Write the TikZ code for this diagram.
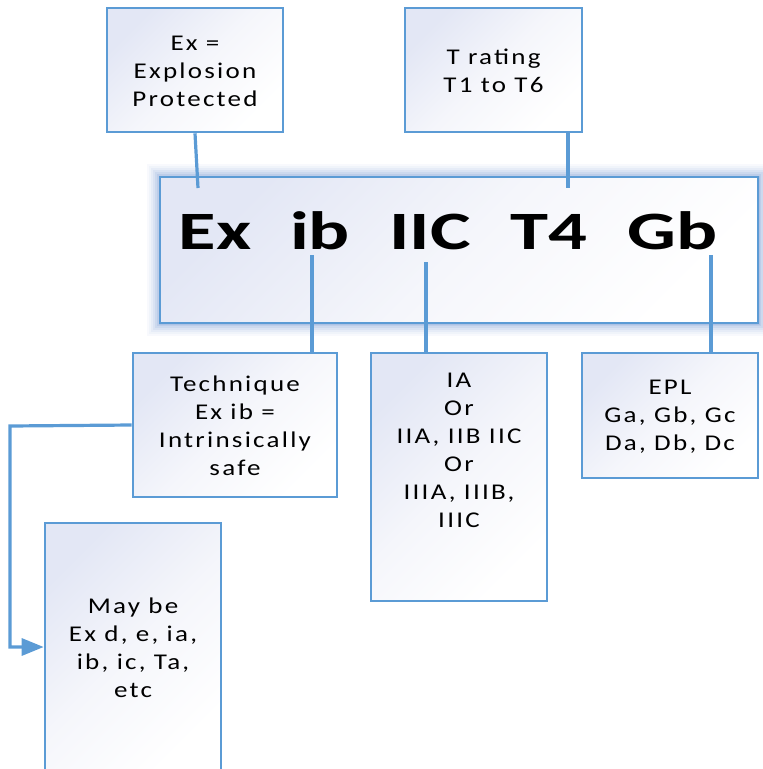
\documentclass[tikz,border=0pt]{standalone}
\usepackage{fontspec}
\setmainfont{Carlito}
\newfontfamily\smallfont[FakeStretch=1.2,LetterSpace=10]{Carlito}
\newfontfamily\bigfont[FakeStretch=1.42]{Carlito}
\usetikzlibrary{arrows.meta}
\definecolor{bord}{HTML}{5B9BD5}
\definecolor{fillc}{HTML}{E3E7F5}
\definecolor{midc}{HTML}{F5F6FB}
\definecolor{glowc}{HTML}{6F93D0}
\begin{document}
\begin{tikzpicture}[x=1pt,y=-1pt,
  boxstyle/.style={draw=bord, line width=2.6pt, top color=fillc, bottom color=white, middle color=midc, shading angle=45, inner sep=0pt},
  txt/.style={font=\smallfont\fontsize{22.5}{28}\selectfont, align=center, text=black, inner sep=0pt},
  big/.style={font=\bigfont\bfseries\fontsize{54}{60}\selectfont, anchor=base, inner sep=0pt},
  conn/.style={draw=bord, line width=3.2pt}]
\useasboundingbox (0,0) rectangle (763,769);
% glow of main box
\foreach \w/\o in {26/0.05,22/0.06,18/0.08,14/0.10,10/0.13,6/0.16,3/0.2}
  \draw[line width=\w pt, glowc, opacity=\o] (160,177) rectangle (758,323);
\node[boxstyle, minimum width=598pt, minimum height=146pt] (mainbox) at (459,250) {};
\node[big] (wex) at (215,249) {Ex};
\node[big] (wib) at (320,249) {ib};
\node[big] (wiic) at (430,249) {IIC};
\node[big] (wt4) at (548.5,249) {T4};
\node[big] (wgb) at (672.5,249) {Gb};
% upper boxes
\node[boxstyle, minimum width=176pt, minimum height=124pt] (exbox) at (195,70) {};
\node[txt] (extext) at (195,71) {Ex =\\Explosion\\Protected};
\node[boxstyle, minimum width=177pt, minimum height=124pt] (tbox) at (493.5,70) {};
\node[txt] (ttext) at (493.5,71) {T rating\\T1 to T6};
% lower boxes
\node[boxstyle, minimum width=204pt, minimum height=144pt] (techbox) at (235,425) {};
\node[txt] (techtext) at (235,426) {Technique\\Ex ib =\\Intrinsically\\safe};
\node[boxstyle, minimum width=176pt, minimum height=248pt] (iabox) at (459,477) {};
\node[txt] (iatext) at (459,450) {IA\\Or\\IIA, IIB IIC\\Or\\IIIA, IIIB,\\IIIC};
\node[boxstyle, minimum width=176pt, minimum height=125pt] (eplbox) at (670,415.5) {};
\node[txt] (epltext) at (670,417) {EPL\\Ga, Gb, Gc\\Da, Db, Dc};
\node[boxstyle, minimum width=176pt, minimum height=248pt] (maybox) at (133,647) {};
\node[txt] (maytext) at (133,648) {May be\\Ex d, e, ia,\\ib, ic, Ta,\\etc};
% connectors
\coordinate (exhead) at (198,188);
\coordinate (t4head) at (568,188);
\coordinate (ibfoot) at (312,255);
\coordinate (iicfoot) at (426,262);
\coordinate (gbfoot) at (711,255);
\coordinate (turn) at (10,426);
\draw[conn] (exbox.south) -- (exhead);
\draw[conn] (t4head |- tbox.south) -- (t4head);
\draw[conn] (ibfoot) -- (ibfoot |- techbox.north);
\draw[conn] (iicfoot) -- (iicfoot |- iabox.north);
\draw[conn] (gbfoot) -- (gbfoot |- eplbox.north);
\draw[conn, -{Triangle[length=22pt,width=17pt]}] (techbox.west) -- (turn) |- (maybox.west);
\end{tikzpicture}
\end{document}
